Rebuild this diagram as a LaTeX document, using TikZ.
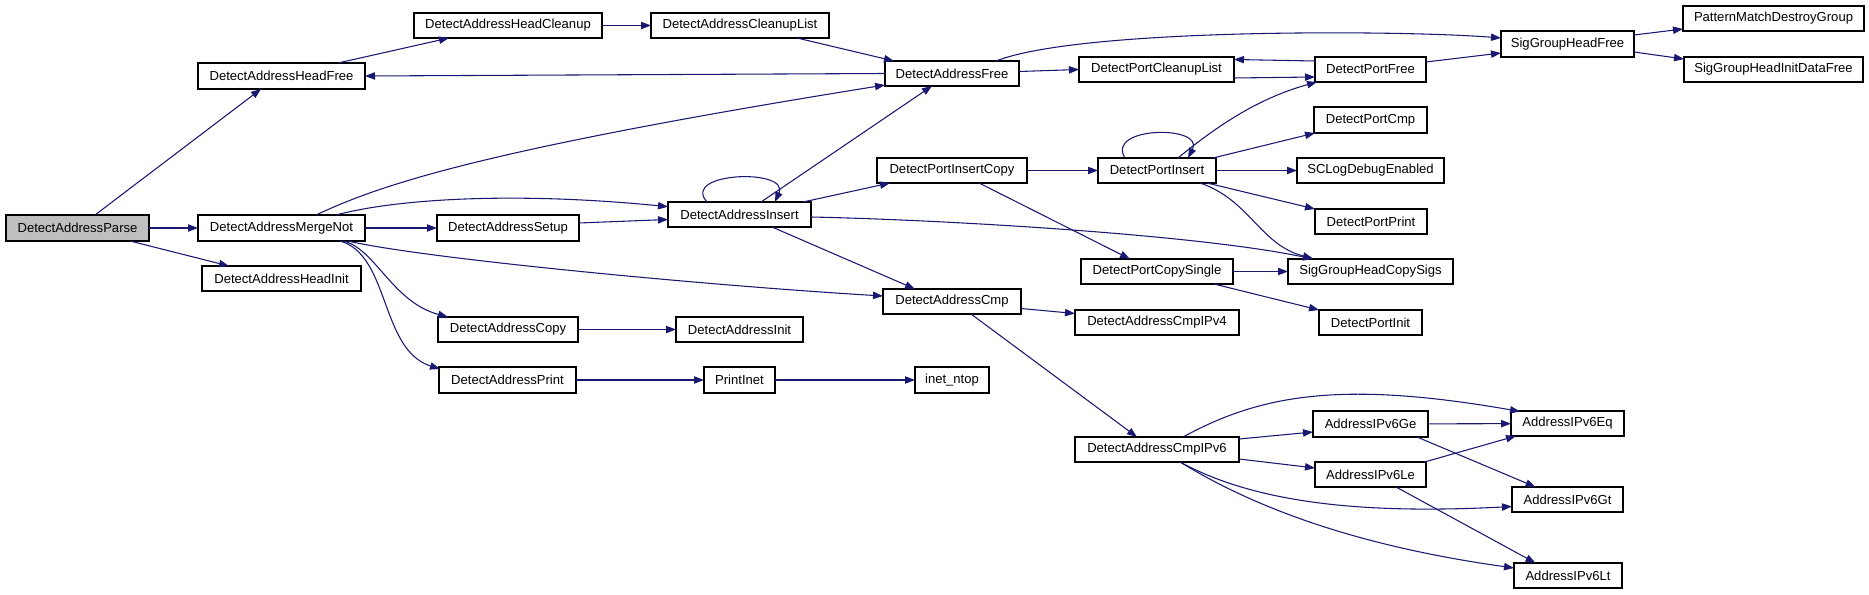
\documentclass[tikz,border=0pt]{standalone}
\usepackage{fontspec}
\setmainfont{Liberation Sans}
\usetikzlibrary{arrows.meta,calc}
\definecolor{edgec}{HTML}{191970}
\definecolor{boxline}{HTML}{000000}
\definecolor{rootfill}{HTML}{BFBFBF}
\newcommand{\gbox}[7][]{%
  \pgfmathsetmacro{\bw}{(#5-#3)*0.75}%
  \pgfmathsetmacro{\bh}{(#6-#4)*0.75}%
  \node[fnode,#1,minimum width=\bw pt,minimum height=\bh pt] (#2) at ({(#3+#5)/2},{(#4+#6)/2}) {#7};}
\begin{document}
\begin{tikzpicture}[x=0.75pt,y=-0.75pt,
  fnode/.style={draw=boxline,line width=1pt,fill=white,inner sep=0pt,outer sep=0pt,font=\fontsize{9.8pt}{11pt}\selectfont},
  edge/.style={draw=edgec,line width=0.8pt,-{Triangle[length=7.5pt,width=5.5pt]}}]
\useasboundingbox (0,0) rectangle (1869,595);
\gbox[fill=rootfill]{parse}{6}{215}{149}{241}{DetectAddressParse}
\gbox{hfree}{198}{63}{365}{89}{DetectAddressHeadFree}
\gbox{hclean}{414}{13}{602}{38}{DetectAddressHeadCleanup}
\gbox{merge}{198}{215}{365}{241}{DetectAddressMergeNot}
\gbox{setup}{437}{215}{579}{241}{DetectAddressSetup}
\gbox{hinit}{202}{266}{361}{291}{DetectAddressHeadInit}
\gbox{clist}{651}{13}{829}{38}{DetectAddressCleanupList}
\gbox{afree}{885}{61}{1019}{86}{DetectAddressFree}
\gbox{pclist}{1079}{57}{1234}{82}{DetectPortCleanupList}
\gbox{ains}{668}{202}{811}{227}{DetectAddressInsert}
\gbox{pic}{877}{158}{1027}{183}{DetectPortInsertCopy}
\gbox{pins}{1098}{158}{1216}{183}{DetectPortInsert}
\gbox{pcs}{1081}{259}{1233}{284}{DetectPortCopySingle}
\gbox{acmp}{883}{289}{1021}{314}{DetectAddressCmp}
\gbox{sghf}{1501}{31}{1634}{57}{SigGroupHeadFree}
\gbox{pmdg}{1683}{6}{1864}{31}{PatternMatchDestroyGroup}
\gbox{sgidf}{1684}{57}{1863}{82}{SigGroupHeadInitDataFree}
\gbox{pfree}{1315}{57}{1426}{82}{DetectPortFree}
\gbox{pcmp}{1314}{107}{1427}{133}{DetectPortCmp}
\gbox{sclog}{1297}{158}{1444}{183}{SCLogDebugEnabled}
\gbox{pprint}{1315}{209}{1427}{234}{DetectPortPrint}
\gbox{sgcs}{1288}{259}{1453}{284}{SigGroupHeadCopySigs}
\gbox{acopy}{438}{317}{578}{342}{DetectAddressCopy}
\gbox{ainit}{676}{317}{803}{342}{DetectAddressInit}
\gbox{aprint}{439}{367}{576}{393}{DetectAddressPrint}
\gbox{pinet}{704}{367}{775}{393}{PrintInet}
\gbox{ntop}{915}{367}{989}{393}{inet\_ntop}
\gbox{cmp4}{1075}{310}{1239}{335}{DetectAddressCmpIPv4}
\gbox{pinit}{1319}{310}{1422}{335}{DetectPortInit}
\gbox{cmp6}{1075}{437}{1239}{462}{DetectAddressCmpIPv6}
\gbox{ge}{1313}{411}{1428}{437}{AddressIPv6Ge}
\gbox{le}{1315}{462}{1426}{487}{AddressIPv6Le}
\gbox{eq}{1511}{411}{1624}{436}{AddressIPv6Eq}
\gbox{gt}{1512}{487}{1623}{512}{AddressIPv6Gt}
\gbox{lt}{1514}{563}{1622}{588}{AddressIPv6Lt}
% edges
\draw[edge] ($(parse.north west)+(89,0)$) -- ($(hfree.south west)+(63,0)$);
\draw[edge] (parse) -- (merge);
\draw[edge] ($(parse.south west)+(124,0)$) -- ($(hinit.north west)+(27,0)$);
\draw[edge] ($(hfree.north west)+(140,0)$) -- ($(hclean.south west)+(35,0)$);
\draw[edge] (hclean) -- (clist);
\draw[edge] ($(clist.south west)+(146,0)$) -- ($(afree.north west)+(9,0)$);
\draw[edge] (afree.west) -- (hfree.east);
\draw[edge] ($(afree.east)+(0,-2)$) -- (pclist.west);
\draw[edge] ($(afree.north west)+(111,0)$) .. controls (1080,28) and (1400,30) .. ($(sghf.north west)+(0,7)$);
\draw[edge] ($(pclist.south east)+(0,-4)$) -- ($(pfree.south west)+(0,-5)$);
\draw[edge] ($(pfree.north west)+(0,4)$) -- ($(pclist.north east)+(0,2.5)$);
\draw[edge] ($(pfree.north east)+(0,5)$) -- ($(sghf.south west)+(0,-4)$);
\draw[edge] ($(sghf.north east)+(0,4)$) -- ($(pmdg.south west)+(0,-2)$);
\draw[edge] ($(sghf.south east)+(0,-5)$) -- ($(sgidf.north west)+(0,2)$);
\draw[edge] ($(merge.north west)+(118,0)$) .. controls (380,185) and (480,150) .. ($(afree.south west)+(0,-1)$);
\draw[edge] ($(merge.north west)+(138,0)$) .. controls (400,198) and (520,192) .. ($(ains.north west)+(0,4.7)$);
\draw[edge] (merge) -- (setup);
\draw[edge] ($(merge.south west)+(150,0)$) .. controls (420,258) and (700,285) .. ($(acmp.north west)+(0,7)$);
\draw[edge] ($(merge.south west)+(145,0)$) .. controls (375,248) and (392,302) .. ($(acopy.north west)+(10,0)$);
\draw[edge] ($(merge.south west)+(142,0)$) .. controls (390,255) and (380,350) .. ($(aprint.north west)+(1,2)$);
\draw[edge] ($(setup.east)+(0,-5)$) -- ($(ains.west)+(0,5)$);
\draw[edge] ($(ains.north west)+(39,0)$) .. controls (680,172) and (790,168) .. ($(ains.north west)+(107,0)$);
\draw[edge] ($(ains.north west)+(93,0)$) -- ($(afree.south west)+(47,0)$);
\draw[edge] ($(ains.north west)+(135,0)$) -- ($(pic.south west)+(13,0)$);
\draw[edge] ($(ains.east)+(0,2.5)$) .. controls (950,220) and (1200,235) .. ($(sgcs.north west)+(25,0)$);
\draw[edge] ($(ains.south west)+(104,0)$) -- ($(acmp.north west)+(32,0)$);
\draw[edge] (pic) -- (pins);
\draw[edge] ($(pic.south west)+(102,0)$) -- ($(pcs.north west)+(49,0)$);
\draw[edge] ($(pins.north west)+(27,0)$) .. controls (1105,126) and (1205,125) .. ($(pins.north west)+(90,0)$);
\draw[edge] ($(pins.north west)+(80,0)$) .. controls (1230,115) and (1270,95) .. ($(pfree.south west)+(2,0)$);
\draw[edge] ($(pins.north east)+(-3,0)$) -- ($(pcmp.south west)+(1,0)$);
\draw[edge] (pins) -- (sclog);
\draw[edge] ($(pins.south east)+(-9,0)$) -- (pprint.north west);
\draw[edge] ($(pins.south west)+(102,0)$) .. controls (1250,200) and (1260,245) .. ($(sgcs.north west)+(25,-0.5)$);
\draw[edge] (pcs) -- (sgcs);
\draw[edge] ($(pcs.south east)+(-19,0)$) -- (pinit.north west);
\draw[edge] (acopy) -- (ainit);
\draw[edge] (aprint) -- (pinet);
\draw[edge] (pinet) -- (ntop);
\draw[edge] ($(acmp.east)+(0,7)$) -- ($(cmp4.west)+(0,-9)$);
\draw[edge] ($(acmp.south west)+(88,0)$) -- ($(cmp6.north west)+(62,0)$);
\draw[edge] ($(cmp6.north east)+(0,2)$) -- ($(ge.south west)+(0,-5)$);
\draw[edge] ($(cmp6.south east)+(0,-3)$) -- ($(le.north west)+(0,6)$);
\draw[edge] ($(cmp6.north west)+(108,0)$) .. controls (1260,395) and (1340,380) .. ($(eq.north west)+(9,0.5)$);
\draw[edge] ($(cmp6.south west)+(105,0)$) .. controls (1250,500) and (1350,515) .. ($(gt.west)+(0,7)$);
\draw[edge] ($(cmp6.south west)+(105,0)$) .. controls (1250,505) and (1350,545) .. ($(lt.north west)+(0,5)$);
\draw[edge] (ge) -- (eq);
\draw[edge] ($(ge.south west)+(104,0)$) -- ($(gt.north west)+(23.5,0)$);
\draw[edge] ($(le.north east)+(-1.5,0)$) -- ($(eq.south west)+(5,0)$);
\draw[edge] ($(le.south west)+(81,0)$) -- ($(lt.north west)+(21.5,0)$);
\end{tikzpicture}
\end{document}
